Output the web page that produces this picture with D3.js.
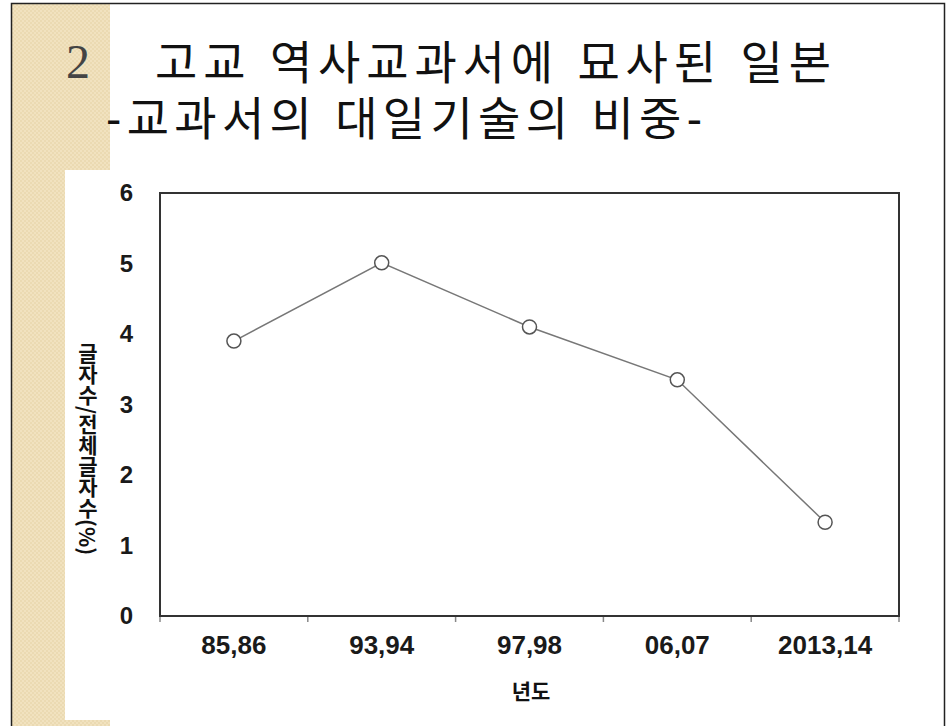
<!DOCTYPE html>
<html>
<head>
<meta charset="utf-8">
<script src="https://cdn.jsdelivr.net/npm/d3@7"></script>
<style>
  body { margin: 0; background: #fff; }
  svg { display: block; }
</style>
</head>
<body>
<div id="chart"></div>
<script>
const width = 946;
const height = 726;

// data
const categories = ['85,86', '93,94', '97,98', '06,07', '2013,14'];
const values = [3.9, 5.01, 4.1, 3.35, 1.33];
const yTicks = [0, 1, 2, 3, 4, 5, 6];

const titleNum = '2';
const titleLine1 = '고교 역사교과서에 묘사된 일본';
const titleLine2 = '-교과서의 대일기술의 비중-';
const xTitle = '년도';
const yTitle = '글자수/전체글자수(%)';

const plot = { left: 160, right: 899, top: 193, bottom: 616 };

const svg = d3.select('#chart')
  .append('svg')
  .attr('width', width)
  .attr('height', height);

// beige checker texture for the slide margin
const defs = svg.append('defs');
const pat = defs.append('pattern')
  .attr('id', 'beige')
  .attr('width', 4)
  .attr('height', 4)
  .attr('patternUnits', 'userSpaceOnUse');
pat.append('rect').attr('width', 4).attr('height', 4).attr('fill', '#f1e2bf');
pat.append('rect').attr('width', 2).attr('height', 2).attr('fill', '#ebdab2');
pat.append('rect').attr('x', 2).attr('y', 2).attr('width', 2).attr('height', 2).attr('fill', '#ebdab2');

svg.append('rect').attr('x', 11).attr('y', 3).attr('width', 99).attr('height', 167).attr('fill', 'url(#beige)');
svg.append('rect').attr('x', 11).attr('y', 170).attr('width', 54).attr('height', 556).attr('fill', 'url(#beige)');
svg.append('rect').attr('x', 65).attr('y', 720).attr('width', 45).attr('height', 6).attr('fill', 'url(#beige)');

// slide frame
svg.append('path')
  .attr('d', 'M11.5,726 V3.5 H944.5 V726')
  .attr('fill', 'none')
  .attr('stroke', '#222')
  .attr('stroke-width', 1.5);

// titles (latin primary font keeps the line box compact; hangul falls back to Noto CJK)
const titleFont = '"Liberation Sans", "Noto Sans CJK KR", sans-serif';

svg.append('text')
  .attr('x', 78)
  .attr('y', 78)
  .attr('text-anchor', 'middle')
  .style('font-family', '"Liberation Serif", "DejaVu Serif", serif')
  .style('font-size', '48px')
  .attr('fill', '#444')
  .text(titleNum);

svg.append('text')
  .attr('x', 155)
  .attr('y', 79)
  .attr('textLength', 676)
  .attr('lengthAdjust', 'spacing')
  .style('font-family', titleFont)
  .style('font-size', '46px')
  .attr('fill', '#111')
  .text(titleLine1);

svg.append('text')
  .attr('x', 106)
  .attr('y', 135)
  .attr('textLength', 596)
  .attr('lengthAdjust', 'spacing')
  .style('font-family', titleFont)
  .style('font-size', '46px')
  .attr('fill', '#111')
  .text(titleLine2);

// scales
const x = d3.scaleBand()
  .domain(categories)
  .range([plot.left, plot.right])
  .padding(0);

const y = d3.scaleLinear()
  .domain([0, 6])
  .range([plot.bottom, plot.top]);

// y axis labels
const yAxis = svg.append('g')
  .attr('transform', `translate(${plot.left},0)`)
  .call(d3.axisLeft(y).tickValues(yTicks).tickSize(0).tickPadding(27).tickFormat(d3.format('d')));
yAxis.select('.domain').remove();
yAxis.selectAll('text')
  .style('font-family', '"Liberation Sans", Arial, sans-serif')
  .style('font-size', '24px')
  .style('font-weight', 'bold')
  .attr('fill', '#1a1a1a');

// x axis labels
const xAxis = svg.append('g')
  .attr('transform', `translate(0,${plot.bottom})`)
  .call(d3.axisBottom(x).tickSize(0).tickPadding(20));
xAxis.select('.domain').remove();
xAxis.selectAll('text')
  .style('font-family', '"Liberation Sans", Arial, sans-serif')
  .style('font-size', '26px')
  .style('font-weight', 'bold')
  .attr('fill', '#1a1a1a');

// boundary tick marks under the frame
const bounds = categories.map(c => x(c)).concat([x(categories[categories.length - 1]) + x.bandwidth()]);
svg.append('g')
  .selectAll('line')
  .data(bounds)
  .join('line')
  .attr('x1', d => d)
  .attr('x2', d => d)
  .attr('y1', plot.bottom)
  .attr('y2', plot.bottom + 6)
  .attr('stroke', '#888')
  .attr('stroke-width', 1.5);

// plot frame
svg.append('rect')
  .attr('x', plot.left)
  .attr('y', plot.top)
  .attr('width', plot.right - plot.left)
  .attr('height', plot.bottom - plot.top)
  .attr('fill', 'none')
  .attr('stroke', '#333')
  .attr('stroke-width', 2);

// line + open markers
const pts = categories.map((c, i) => ({ c, v: values[i] }));
const line = d3.line()
  .x(d => x(d.c) + x.bandwidth() / 2)
  .y(d => y(d.v));

svg.append('path')
  .datum(pts)
  .attr('d', line)
  .attr('fill', 'none')
  .attr('stroke', '#777')
  .attr('stroke-width', 1.5);

svg.selectAll('.pt')
  .data(pts)
  .join('circle')
  .attr('class', 'pt')
  .attr('cx', d => x(d.c) + x.bandwidth() / 2)
  .attr('cy', d => y(d.v))
  .attr('r', 7)
  .attr('fill', '#fff')
  .attr('stroke', '#555')
  .attr('stroke-width', 1.5);

// axis titles
svg.append('text')
  .attr('x', 531)
  .attr('y', 699)
  .attr('text-anchor', 'middle')
  .style('font-family', '"Noto Sans CJK KR", sans-serif')
  .style('font-size', '21px')
  .style('font-weight', 'bold')
  .attr('fill', '#111')
  .text(xTitle);

svg.append('text')
  .attr('x', 88)
  .attr('y', 449)
  .attr('text-anchor', 'middle')
  .style('writing-mode', 'vertical-rl')
  .style('font-family', '"Noto Sans CJK KR", sans-serif')
  .style('font-size', '21px')
  .style('font-weight', 'bold')
  .attr('fill', '#111')
  .text(yTitle);
</script>
</body>
</html>
